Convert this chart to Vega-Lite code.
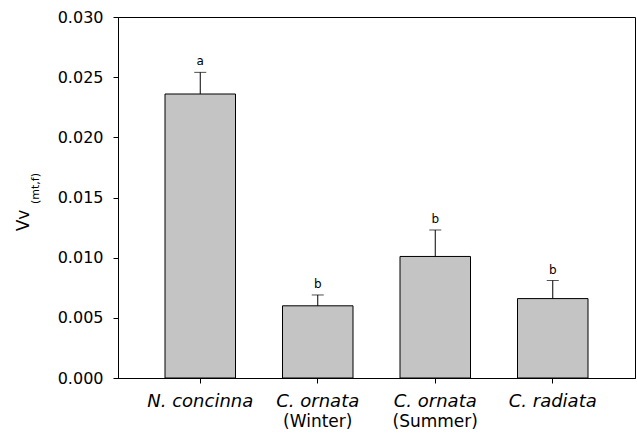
{
  "$schema": "https://vega.github.io/schema/vega-lite/v6.json",
  "width": 517,
  "height": 361,
  "autosize": {"type": "none"},
  "padding": {"left": 118, "top": 17, "right": 2, "bottom": 59},
  "background": "white",
  "config": {
    "view": {"stroke": "black", "strokeWidth": 1},
    "font": "DejaVu Sans",
    "axis": {"domainColor": "black", "tickColor": "black", "labelColor": "black", "titleColor": "black", "grid": false, "labelFont": "DejaVu Sans", "titleFont": "DejaVu Sans", "titleFontWeight": "normal"}
  },
  "data": {
    "values": [
      {"group": "N. concinna", "mean": 0.0236, "upper": 0.0254, "letter": "a"},
      {"group": "C. ornata|(Winter)", "mean": 0.0060, "upper": 0.0069, "letter": "b"},
      {"group": "C. ornata|(Summer)", "mean": 0.0101, "upper": 0.0123, "letter": "b"},
      {"group": "C. radiata", "mean": 0.0066, "upper": 0.0081, "letter": "b"}
    ]
  },
  "layer": [
    {
      "mark": {"type": "bar", "fill": "#c4c4c4", "stroke": "black", "strokeWidth": 1},
      "encoding": {
        "x": {
          "field": "group", "type": "nominal", "sort": null,
          "scale": {"paddingInner": 0.4, "paddingOuter": 0.4},
          "axis": {"orient": "bottom", "title": null, "labelAngle": 0, "labelExpr": "split(datum.label, '|')[0]", "labelFontSize": 18, "labelFontStyle": "italic", "labelPadding": 9, "tickSize": 5, "labelBaseline": "top"}
        },
        "y": {
          "field": "mean", "type": "quantitative",
          "scale": {"domain": [0, 0.03], "nice": false},
          "axis": {"orient": "left", "values": [0, 0.005, 0.01, 0.015, 0.02, 0.025, 0.03], "format": ".3f", "labelFontSize": 16, "tickSize": 5, "labelPadding": 10, "title": "Vv", "titleFontSize": 17, "titleAngle": -90, "titleAlign": "center", "titleBaseline": "alphabetic", "titleX": -90, "titleY": 203}
        }
      }
    },
    {
      "mark": {"type": "rule", "color": "black", "strokeWidth": 1},
      "encoding": {
        "x": {
          "field": "group", "type": "nominal", "sort": null,
          "axis": {"orient": "bottom", "title": null, "labelAngle": 0, "labelExpr": "length(split(datum.label, '|')) > 1 ? split(datum.label, '|')[1] : ''", "labelFontSize": 17, "labelPadding": 35, "ticks": false, "domain": false, "labelBaseline": "top"}
        },
        "y": {
          "field": "mean", "type": "quantitative",
          "axis": {"orient": "left", "labels": false, "ticks": false, "domain": false, "title": "(mt,f)", "titleFontSize": 11, "titleAngle": -90, "titleAlign": "center", "titleBaseline": "alphabetic", "titleX": -80, "titleY": 171}
        },
        "y2": {"field": "upper"}
      }
    },
    {
      "mark": {"type": "tick", "color": "black", "size": 12, "thickness": 1, "orient": "horizontal"},
      "encoding": {
        "x": {"field": "group", "type": "nominal", "sort": null, "axis": null},
        "y": {"field": "upper", "type": "quantitative", "axis": null}
      }
    },
    {
      "mark": {"type": "text", "fontSize": 12, "baseline": "bottom", "dy": -4, "fill": "black"},
      "encoding": {
        "x": {"field": "group", "type": "nominal", "sort": null, "axis": null},
        "y": {"field": "upper", "type": "quantitative", "axis": null},
        "text": {"field": "letter"}
      }
    }
  ],
  "resolve": {"axis": {"x": "independent", "y": "independent"}}
}
